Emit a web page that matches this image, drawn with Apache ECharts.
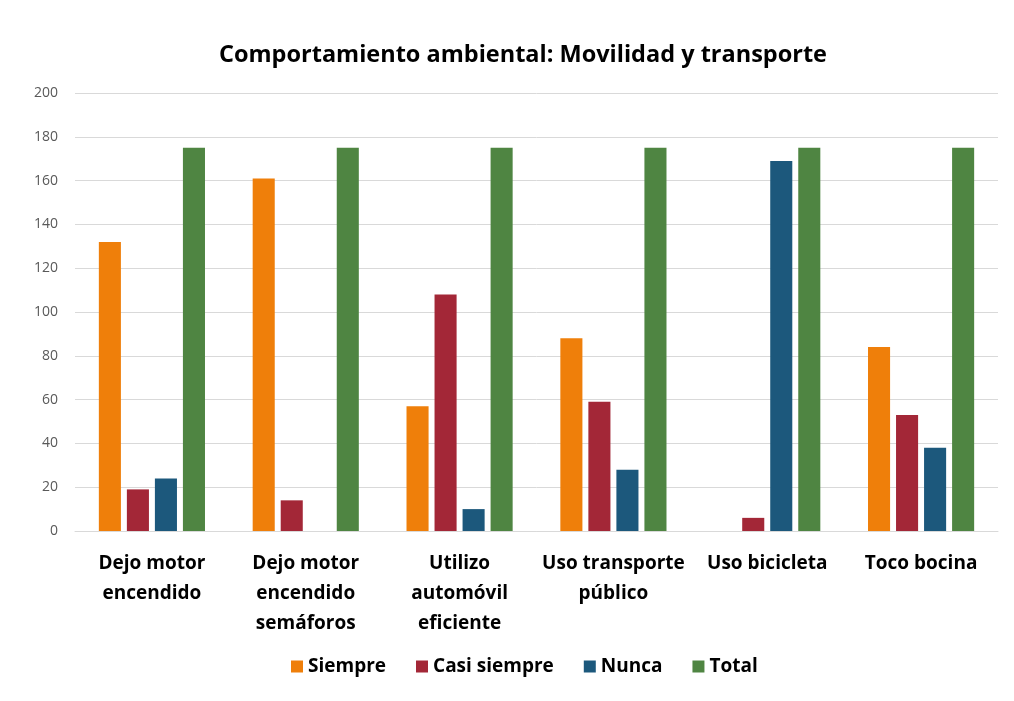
<!DOCTYPE html>
<html>
<head>
<meta charset="utf-8">
<script src="https://cdn.jsdelivr.net/npm/echarts@6/dist/echarts.min.js"></script>
<style>
  html, body { margin: 0; padding: 0; background: #fff; }
  #chart { width: 1014px; height: 701px; }
</style>
</head>
<body>
<div id="chart"></div>
<script>
var categories = [
  'Dejo motor\nencendido',
  'Dejo motor\nencendido\nsemáforos',
  'Utilizo\nautomóvil\neficiente',
  'Uso transporte\npúblico',
  'Uso bicicleta',
  'Toco bocina'
];
var siempre = [132, 161, 57, 88, 0, 84];
var casiSiempre = [19, 14, 108, 59, 6, 53];
var nunca = [24, 0, 10, 28, 169, 38];
var total = [175, 175, 175, 175, 175, 175];
var yTicks = [0, 20, 40, 60, 80, 100, 120, 140, 160, 180, 200];

var font = '"Open Sans", "Noto Sans", sans-serif';

function barSeries(name, data, color) {
  return {
    name: name,
    type: 'bar',
    data: data,
    barGap: '27%',
    barCategoryGap: '31%',
    itemStyle: { color: color }
  };
}

var chart = echarts.init(document.getElementById('chart'));
chart.setOption({
  backgroundColor: '#fff',
  animation: false,
  title: {
    text: 'Comportamiento ambiental: Movilidad y transporte',
    left: 214,
    top: 38,
    textStyle: { fontFamily: font, fontSize: 23.5, fontWeight: 'bold', color: '#000' }
  },
  legend: {
    bottom: 20,
    left: 286,
    itemWidth: 12,
    itemHeight: 12,
    itemGap: 30,
    icon: 'rect',
    textStyle: { fontFamily: font, fontSize: 19, fontWeight: 'bold', color: '#000' },
    data: ['Siempre', 'Casi siempre', 'Nunca', 'Total']
  },
  grid: { left: 75, right: 16, top: 93, bottom: 170 },
  xAxis: {
    type: 'category',
    data: categories,
    axisTick: { show: false },
    axisLine: { lineStyle: { color: '#d9d9d9' } },
    axisLabel: {
      interval: 0,
      margin: 18,
      lineHeight: 30,
      fontFamily: font,
      fontSize: 19,
      fontWeight: 'bold',
      color: '#000'
    }
  },
  yAxis: {
    type: 'value',
    min: yTicks[0],
    max: yTicks[yTicks.length - 1],
    interval: 20,
    axisLine: { show: false },
    axisTick: { show: false },
    splitLine: { lineStyle: { color: '#d9d9d9' } },
    axisLabel: { fontFamily: font, fontSize: 14, color: '#595959', margin: 17 }
  },
  series: [
    barSeries('Siempre', siempre, '#ef7f0a'),
    barSeries('Casi siempre', casiSiempre, '#a32737'),
    barSeries('Nunca', nunca, '#1c587c'),
    barSeries('Total', total, '#4f8542')
  ]
});
</script>
</body>
</html>
